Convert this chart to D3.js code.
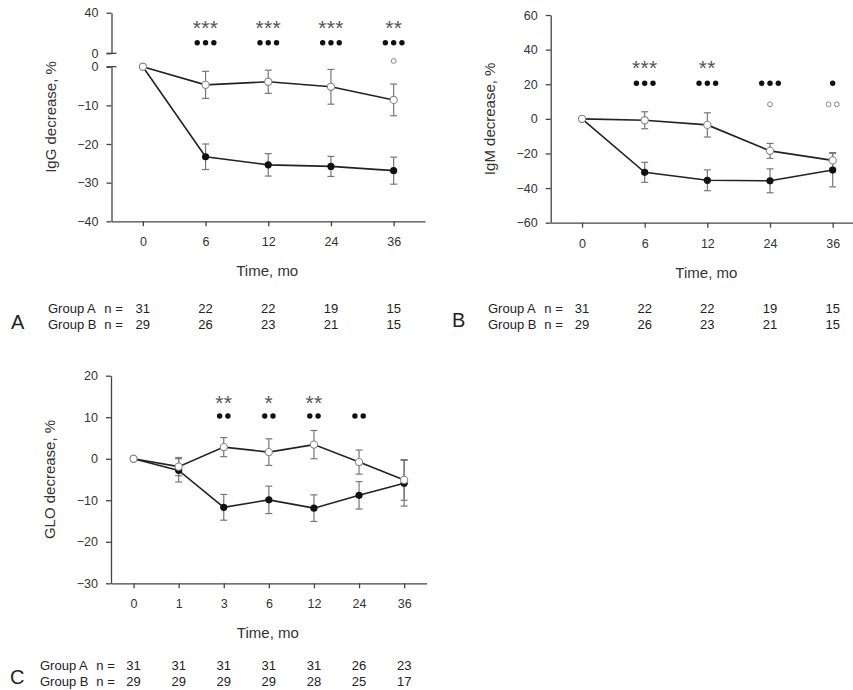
<!DOCTYPE html>
<html>
<head>
<meta charset="utf-8">
<script src="https://cdn.jsdelivr.net/npm/d3@7"></script>
<style>
  body { margin: 0; background: #fff; }
  svg { display: block; font-family: "Liberation Sans", Arial, sans-serif; }
  .axis path, .axis line { stroke: #444; stroke-width: 1.3; }
  .axis text { fill: #333; font-size: 12.5px; }
</style>
</head>
<body>
<svg id="canvas" width="853" height="690"></svg>
<script>
// time points
let timesAB = ["0", "6", "12", "24", "36"];
let timesC = ["0", "1", "3", "6", "12", "24", "36"];

// panel A - IgG
let igGOpen = [0, -4.7, -3.9, -5.2, -8.6];
let igGOpenErr = [0, 3.5, 3.0, 4.5, 4.1];
let igGFilled = [0, -23.3, -25.4, -25.8, -26.9];
let igGFilledErr = [0, 3.3, 2.9, 2.6, 3.5];
let starsA = ["", "***", "***", "***", "**"];
let dotsA = [0, 3, 3, 3, 3];
let openDotsA = [0, 0, 0, 0, 1];
let nA_A = [31, 22, 22, 19, 15];
let nB_A = [29, 26, 23, 21, 15];

// panel B - IgM
let igMOpen = [0, -0.8, -3.5, -18.5, -24];
let igMOpenErr = [0, 4.9, 7.0, 4.3, 4.5];
let igMFilled = [0, -30.9, -35.5, -35.8, -29.6];
let igMFilledErr = [0, 5.8, 6.0, 6.9, 9.7];
let starsB = ["", "***", "**", "", ""];
let dotsB = [0, 3, 3, 3, 1];
let openDotsB = [0, 0, 0, 1, 2];
let nA_B = [31, 22, 22, 19, 15];
let nB_B = [29, 26, 23, 21, 15];

// panel C - GLO
let gloOpen = [0, -1.9, 2.8, 1.6, 3.4, -0.8, -5.1];
let gloOpenErr = [0, 2.2, 2.3, 3.2, 3.4, 2.9, 4.9];
let gloFilled = [0, -2.8, -11.7, -9.9, -11.9, -8.8, -5.9];
let gloFilledErr = [0, 2.8, 3.1, 3.3, 3.2, 3.3, 5.5];
let starsC = ["", "", "**", "*", "**", "", ""];
let dotsC = [0, 0, 2, 2, 2, 2, 0];
let openDotsC = [0, 0, 0, 0, 0, 0, 0];
let nA_C = [31, 31, 31, 31, 31, 26, 23];
let nB_C = [29, 29, 29, 29, 28, 25, 17];

let svg = d3.select("#canvas");
svg.append("rect").attr("width", 853).attr("height", 690).attr("fill", "#fff");

let drawPanel = (p) => {
    let g = svg.append("g");

    let x = d3.scalePoint()
        .domain(p.times)
        .range([p.left, p.right])
        .padding(0.5);

    // y scale (lower part when axis is broken)
    let y = d3.scaleLinear().domain(p.yDomain).range([p.bottom, p.top]);

    g.append("g")
        .attr("class", "axis")
        .attr("transform", `translate(${p.left},0)`)
        .call(d3.axisLeft(y).tickValues(p.yTicks).tickSize(5).tickPadding(8).tickSizeOuter(0));

    if (p.upper) {
        let yUp = d3.scaleLinear().domain(p.upper.domain).range([p.upper.bottom, p.upper.top]);
        g.append("g")
            .attr("class", "axis")
            .attr("transform", `translate(${p.left},0)`)
            .call(d3.axisLeft(yUp).tickValues(p.upper.domain).tickSize(5).tickPadding(8).tickSizeOuter(0));
        // break marks crossing the axis
        [yUp(0), y(0)].forEach((yy) => {
            g.append("line")
                .attr("x1", p.left - 5).attr("x2", p.left + 5)
                .attr("y1", yy).attr("y2", yy)
                .attr("stroke", "#444").attr("stroke-width", 1.3);
        });
    }

    g.append("g")
        .attr("class", "axis")
        .attr("transform", `translate(0,${p.bottom})`)
        .call(d3.axisBottom(x).tickSize(5).tickPadding(11).tickSizeOuter(0));

    // axis titles
    g.append("text")
        .attr("transform", `translate(${p.left - 56},${(p.axisTop + p.bottom) / 2}) rotate(-90)`)
        .attr("text-anchor", "middle")
        .attr("font-size", 15)
        .attr("fill", "#333")
        .text(p.yLabel);

    g.append("text")
        .attr("x", (p.left + p.right) / 2 - 1)
        .attr("y", p.bottom + 55)
        .attr("text-anchor", "middle")
        .attr("font-size", 15)
        .attr("fill", "#333")
        .text("Time, mo");

    // error bars
    let drawErr = (vals, errs) => {
        vals.forEach((v, i) => {
            if (errs[i] === 0) return;
            let cx = x(p.times[i]);
            let y1 = y(v + errs[i]);
            let y2 = y(v - errs[i]);
            g.append("line").attr("x1", cx).attr("x2", cx).attr("y1", y1).attr("y2", y2)
                .attr("stroke", "#777").attr("stroke-width", 1.2);
            [y1, y2].forEach((yy) => {
                g.append("line").attr("x1", cx - 3.5).attr("x2", cx + 3.5).attr("y1", yy).attr("y2", yy)
                    .attr("stroke", "#777").attr("stroke-width", 1.2);
            });
        });
    };
    drawErr(p.filled, p.filledErr);
    drawErr(p.open, p.openErr);

    let line = d3.line()
        .x((d, i) => x(p.times[i]))
        .y((d) => y(d));

    [p.filled, p.open].forEach((vals) => {
        g.append("path")
            .attr("d", line(vals))
            .attr("fill", "none")
            .attr("stroke", "#222")
            .attr("stroke-width", 1.6);
    });

    g.selectAll(".fm").data(p.filled).enter().append("circle")
        .attr("cx", (d, i) => x(p.times[i]))
        .attr("cy", (d) => y(d))
        .attr("r", 3.6)
        .attr("fill", "#111");

    g.selectAll(".om").data(p.open).enter().append("circle")
        .attr("cx", (d, i) => x(p.times[i]))
        .attr("cy", (d) => y(d))
        .attr("r", 3.6)
        .attr("fill", "#fff")
        .attr("stroke", "#888")
        .attr("stroke-width", 1.1);

    // significance marks
    p.stars.forEach((s, i) => {
        if (!s) return;
        g.append("text")
            .attr("x", x(p.times[i]))
            .attr("y", p.starsY + 12)
            .attr("text-anchor", "middle")
            .attr("font-size", 21)
            .attr("letter-spacing", 0.3)
            .attr("fill", "#555")
            .text(s);
    });

    let drawDots = (counts, cy, open) => {
        counts.forEach((c, i) => {
            for (let k = 0; k < c; k++) {
                let cx = x(p.times[i]) + (k - (c - 1) / 2) * 8.3;
                g.append("circle")
                    .attr("cx", cx).attr("cy", cy)
                    .attr("r", open ? 2.4 : 2.7)
                    .attr("fill", open ? "#fff" : "#111")
                    .attr("stroke", open ? "#888" : "none")
                    .attr("stroke-width", 1);
            }
        });
    };
    drawDots(p.dots, p.dotsY, false);
    drawDots(p.openDots, p.openY, true);

    // n table
    let rows = [["Group A", p.nA, p.tableY], ["Group B", p.nB, p.tableY + 16]];
    rows.forEach((r) => {
        g.append("text")
            .attr("x", p.tableX).attr("y", r[2] + 4.7)
            .attr("font-size", 13).attr("fill", "#222")
            .text(r[0]);
        g.append("text")
            .attr("x", p.tableX + 56.3).attr("y", r[2] + 4.7)
            .attr("font-size", 13).attr("fill", "#222")
            .text("n =");
        r[1].forEach((n, i) => {
            g.append("text")
                .attr("x", x(p.times[i])).attr("y", r[2] + 4.7)
                .attr("text-anchor", "middle")
                .attr("font-size", 13).attr("fill", "#222")
                .text(n);
        });
    });

    g.append("text")
        .attr("x", p.letterX).attr("y", p.letterY + 7)
        .attr("font-size", 20).attr("fill", "#222")
        .text(p.letter);
};

drawPanel({
    times: timesAB, left: 111.5, right: 425, top: 66.7, bottom: 221.3, axisTop: 12.7,
    yDomain: [-40, 0], yTicks: [-40, -30, -20, -10, 0],
    upper: { domain: [0, 40], top: 12.7, bottom: 53.3 },
    yLabel: "IgG decrease, %",
    open: igGOpen, openErr: igGOpenErr, filled: igGFilled, filledErr: igGFilledErr,
    stars: starsA, dots: dotsA, openDots: openDotsA,
    starsY: 23.3, dotsY: 42.7, openY: 61,
    nA: nA_A, nB: nB_A, tableX: 48, tableY: 308.3,
    letter: "A", letterX: 11, letterY: 321.7
});

drawPanel({
    times: timesAB, left: 550.7, right: 864, top: 15, bottom: 222.7, axisTop: 15,
    yDomain: [-60, 60], yTicks: [-60, -40, -20, 0, 20, 40, 60],
    yLabel: "IgM decrease, %",
    open: igMOpen, openErr: igMOpenErr, filled: igMFilled, filledErr: igMFilledErr,
    stars: starsB, dots: dotsB, openDots: openDotsB,
    starsY: 63.3, dotsY: 83.3, openY: 104.3,
    nA: nA_B, nB: nB_B, tableX: 488, tableY: 308.3,
    letter: "B", letterX: 452, letterY: 319.5
});

drawPanel({
    times: timesC, left: 111, right: 426.7, top: 375.7, bottom: 583.3, axisTop: 375.7,
    yDomain: [-30, 20], yTicks: [-30, -20, -10, 0, 10, 20],
    yLabel: "GLO decrease, %",
    open: gloOpen, openErr: gloOpenErr, filled: gloFilled, filledErr: gloFilledErr,
    stars: starsC, dots: dotsC, openDots: openDotsC,
    starsY: 398.3, dotsY: 416, openY: 0,
    nA: nA_C, nB: nB_C, tableX: 40, tableY: 665,
    letter: "C", letterX: 10, letterY: 677
});
</script>
</body>
</html>
